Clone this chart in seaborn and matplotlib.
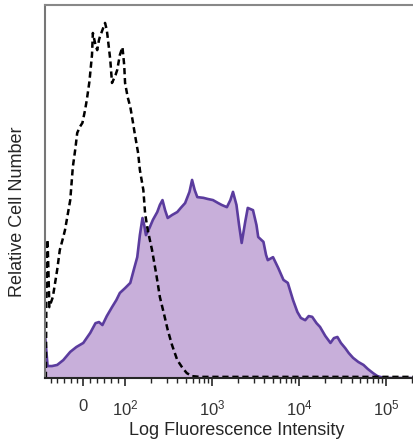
import numpy as np
import pandas as pd
import matplotlib
matplotlib.use("Agg")
import matplotlib.pyplot as plt
import seaborn as sns

# display channel in decades (10^2 -> 2.0, "0" sits at ~1.52), counts in % of max scale
stained_u = [1.08, 1.11, 1.16, 1.22, 1.29, 1.37, 1.44, 1.52, 1.60, 1.66, 1.70, 1.74, 1.79,
             1.85, 1.90, 1.94, 2.00, 2.06, 2.10, 2.14, 2.17, 2.20, 2.22, 2.24, 2.28, 2.32,
             2.37, 2.40, 2.43, 2.46, 2.49, 2.54, 2.60, 2.64, 2.69, 2.74, 2.77, 2.80, 2.83,
             2.90, 2.95, 3.01, 3.07, 3.11, 3.17, 3.21, 3.24, 3.28, 3.31, 3.34, 3.38, 3.41,
             3.47, 3.51, 3.53, 3.59, 3.62, 3.64, 3.70, 3.76, 3.82, 3.87, 3.93, 3.98, 4.02,
             4.07, 4.11, 4.15, 4.20, 4.24, 4.30, 4.36, 4.40, 4.44, 4.48, 4.53, 4.57, 4.62,
             4.68, 4.74, 4.79, 4.85, 4.90, 4.93, 4.99, 5.32]
stained_count = [11.5, 3.2, 3.2, 3.5, 4.8, 7.0, 8.3, 9.4, 12.1, 14.7, 15.0, 14.2, 16.6,
                 19.0, 20.9, 22.8, 24.1, 25.5, 29.0, 32.4, 38.3, 42.9, 41.0, 38.3, 40.2, 42.4,
                 44.5, 46.4, 47.7, 45.0, 42.9, 43.7, 44.5, 45.6, 46.9, 49.9, 53.1, 50.4, 48.5,
                 48.3, 48.0, 47.7, 46.9, 46.4, 45.8, 47.7, 49.9, 46.4, 41.0, 36.2, 41.8, 45.6,
                 45.0, 41.0, 37.8, 36.5, 33.0, 31.6, 32.4, 29.5, 26.3, 25.5, 20.9, 17.7, 16.1,
                 15.5, 16.6, 16.4, 14.7, 13.7, 11.3, 9.4, 10.7, 11.0, 9.4, 8.0, 6.7, 5.4,
                 4.3, 3.5, 2.4, 1.3, 0.5, 0.3, 0.0, 0.0]

isotype_u = [1.09, 1.10, 1.11, 1.13, 1.17, 1.22, 1.25, 1.29, 1.31, 1.34, 1.37, 1.40, 1.43,
             1.45, 1.48, 1.51, 1.54, 1.56, 1.59, 1.60, 1.62, 1.63, 1.66, 1.68, 1.70, 1.71,
             1.74, 1.77, 1.79, 1.80, 1.83, 1.85, 1.89, 1.91, 1.94, 1.97, 1.99, 2.00, 2.03,
             2.06, 2.09, 2.11, 2.15, 2.17, 2.21, 2.23, 2.26, 2.31, 2.36, 2.40, 2.45, 2.49,
             2.54, 2.60, 2.66, 2.71, 2.77, 2.86, 5.32]
isotype_count = [0.0, 37.0, 37.0, 19.0, 21.7, 29.0, 34.3, 37.8, 39.7, 43.7, 47.7, 56.6, 61.7,
                 65.7, 67.3, 68.4, 71.8, 74.5, 79.4, 81.8, 86.6, 92.5, 89.3, 87.9, 90.6, 91.4,
                 93.3, 95.2, 93.3, 91.4, 85.3, 79.1, 81.2, 82.6, 86.6, 88.7, 83.9, 79.1, 75.3,
                 72.7, 68.6, 65.7, 60.3, 55.8, 50.4, 44.2, 39.7, 34.3, 27.6, 21.7, 16.9, 12.9,
                 8.8, 4.8, 2.7, 1.3, 0.5, 0.3, 0.3]

tick_pos = [1.52, 2, 3, 4, 5]
tick_labels = ["0", "$10^{2}$", "$10^{3}$", "$10^{4}$", "$10^{5}$"]

sns.set_style("ticks")
plt.rcParams["font.family"] = ["Liberation Sans", "DejaVu Sans"]
plt.rcParams["mathtext.fontset"] = "custom"
plt.rcParams["mathtext.rm"] = "Liberation Sans"
plt.rcParams["mathtext.it"] = "Liberation Sans"
plt.rcParams["text.color"] = "#333333"

stained = pd.DataFrame({"u": stained_u, "count": stained_count})
isotype = pd.DataFrame({"u": isotype_u, "count": isotype_count})

fig = plt.figure(figsize=(4.14, 4.42), dpi=100)
ax = fig.add_axes([45 / 414, 64 / 442, 1 - 45 / 414, 373 / 442])

ax.fill_between(stained["u"], stained["count"], color="#c8afda", lw=0)
sns.lineplot(data=stained, x="u", y="count", sort=False, color="#5b3c9e", lw=1.9, ax=ax)
sns.lineplot(data=isotype, x="u", y="count", sort=False, color="black", lw=1.8,
             linestyle=(0, (2.5, 1.5)), ax=ax)

ax.set_xlim(1.08, 5.32)
ax.set_ylim(0, 100)

ax.set_xticks(tick_pos)
ax.set_xticklabels(tick_labels, fontsize=12, color="#333333")
minor = [1.15, 1.22, 1.3, 1.38, 1.45, 1.6, 1.68, 1.76, 1.84, 1.92]
for k in range(2, 6):
    for m in range(2, 10):
        if k + np.log10(m) < 5.32:
            minor.append(k + np.log10(m))
ax.set_xticks(minor, minor=True)
ax.tick_params(axis="x", which="major", length=6, width=1.2, pad=9)
ax.tick_params(axis="x", which="minor", length=3.5, width=1)
ax.set_yticks([])

ax.spines["right"].set_visible(False)
ax.spines["left"].set_color("#777777")
ax.spines["top"].set_color("#888888")
for s in ["left", "top", "bottom"]:
    ax.spines[s].set_linewidth(1.5)

ax.set_xlabel("Log Fluorescence Intensity", fontsize=13)
ax.set_ylabel("Relative Cell Number", fontsize=13)
ax.xaxis.set_label_coords((237 - 45) / 369, -44 / 373)
ax.yaxis.set_label_coords(-19 / 369, (378 - 212) / 373)

fig.savefig("out.png", dpi=100)
